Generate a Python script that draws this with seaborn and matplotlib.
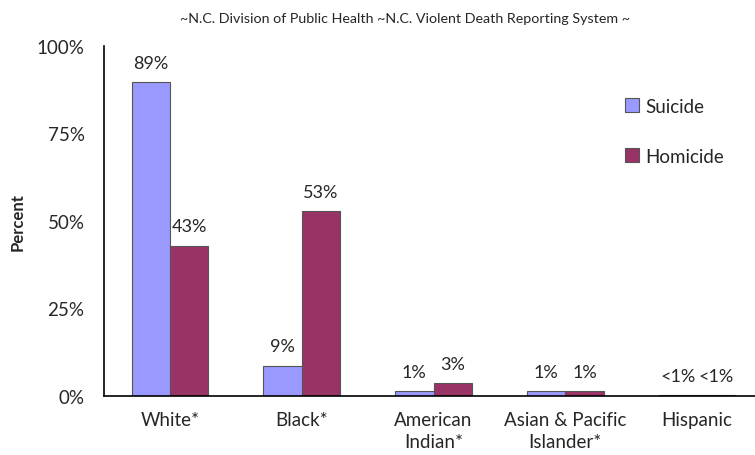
import pandas as pd
import matplotlib
matplotlib.use("Agg")
import matplotlib.pyplot as plt
import seaborn as sns

# data
categories = ["White*", "Black*", "American\nIndian*", "Asian & Pacific\nIslander*", "Hispanic"]
suicide = [89.6, 8.7, 1.3, 1.3, 0.3]
homicide = [43.0, 52.9, 3.6, 1.4, 0.3]
suicide_labels = ["89%", "9%", "1%", "1%", "<1%"]
homicide_labels = ["43%", "53%", "3%", "1%", "<1%"]

df = pd.DataFrame({
    "Race": categories * 2,
    "Percent": suicide + homicide,
    "Type": ["Suicide"] * len(categories) + ["Homicide"] * len(categories),
})

sns.set_style("white")
plt.rcParams["font.family"] = ["Lato", "DejaVu Sans"]

fig = plt.figure(figsize=(7.55, 4.56), dpi=100)
# axes run a little past the right edge, like the cropped original
ax = fig.add_axes([104 / 755, 1 - 397 / 456, 659 / 755, 350 / 456])

sns.barplot(data=df, x="Race", y="Percent", hue="Type", ax=ax,
            palette={"Suicide": "#9999FF", "Homicide": "#993366"},
            width=0.58, edgecolor="#555555", linewidth=0.8, saturation=1)

for cont, labs in zip(ax.containers, [suicide_labels, homicide_labels]):
    ax.bar_label(cont, labels=labs, padding=8, fontsize=13)

ax.set_ylim(0, 100)
ax.set_xlim(-0.5, len(categories) - 0.5)
ax.set_yticks([0, 25, 50, 75, 100])
ax.set_yticklabels(["0%", "25%", "50%", "75%", "100%"], fontsize=13.5)
ax.tick_params(axis="y", length=0, pad=14)
ax.tick_params(axis="x", length=0, pad=11)
for lab in ax.get_xticklabels():
    lab.set_fontsize(13.5)
    lab.set_linespacing(1.35)
ax.set_xlabel("")
ax.set_ylabel("")
fig.text(18 / 755, 1 - 222 / 456, "Percent", rotation=90, fontsize=12,
         fontweight="bold", ha="center", va="center")

for side in ["top", "right"]:
    ax.spines[side].set_visible(False)
for side in ["left", "bottom"]:
    ax.spines[side].set_color("black")
    ax.spines[side].set_linewidth(1.2)

fig.text(405 / 755, 1 - 19 / 456,
         "~N.C. Division of Public Health ~N.C. Violent Death Reporting System ~",
         fontsize=10.3, ha="center", va="center")

ax.legend(title=None, frameon=False, loc="upper left",
          bbox_to_anchor=(608 / 755, 1 - 82 / 456), bbox_transform=fig.transFigure,
          fontsize=13.5, labelspacing=1.75, handlelength=0.75, handleheight=0.75,
          handletextpad=0.35)

plt.savefig("out.png", dpi=100)
